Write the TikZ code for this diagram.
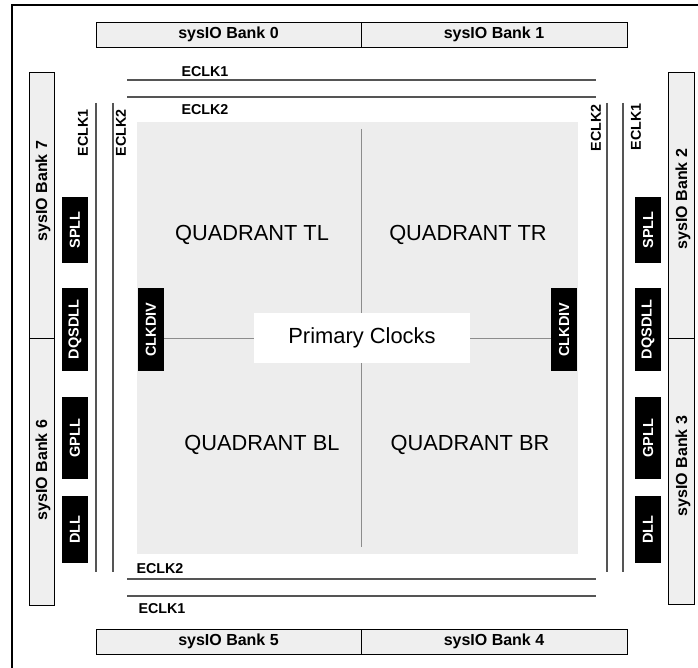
\documentclass[tikz,border=0pt]{standalone}
\usepackage{fontspec}
\setmainfont{Liberation Sans}
\definecolor{bankfill}{HTML}{EFEFEF}
\definecolor{quadfill}{HTML}{EDEDED}
\definecolor{clkline}{HTML}{555555}
\definecolor{crossline}{HTML}{8C8C8C}
\begin{document}
\begin{tikzpicture}[x=1pt,y=-1pt,
  bankbox/.style={draw=black, line width=0.9pt, fill=bankfill, inner sep=0pt, anchor=center},
  banktext/.style={font=\bfseries\fontsize{16}{18}\selectfont, inner sep=0pt, anchor=center},
  blk/.style={fill=black, text=white, inner sep=0pt, rotate=90, anchor=center, font=\bfseries\fontsize{14.5}{16}\selectfont},
  eclk/.style={draw=clkline, line width=1.8pt},
  elabel/.style={font=\bfseries\fontsize{14.3}{16}\selectfont, inner sep=0pt, anchor=center},
  quad/.style={font=\fontsize{21.8}{24}\selectfont, inner sep=0pt, anchor=center},
  cross/.style={draw=crossline, line width=0.9pt}
]
\useasboundingbox (0,0) rectangle (698,668);
% outer frame
\draw[line width=2pt] (12,668) -- (12,5) -- (698,5);

% quadrant area
\node[fill=quadfill, inner sep=0pt, minimum width=441pt, minimum height=432pt] (quad) at (357.5,338) {};

% top / bottom banks
\node[bankbox, minimum width=265pt, minimum height=25pt] (b0) at (228.5,34.5) {};
\node[bankbox, minimum width=266pt, minimum height=25pt] (b1) at (494,34.5) {};
\node[banktext] (t0) at (228.5,34.5) {sysIO Bank 0};
\node[banktext] (t1) at (494,34.5) {sysIO Bank 1};
\node[bankbox, minimum width=265pt, minimum height=25pt] (b5) at (228.5,641.5) {};
\node[bankbox, minimum width=266pt, minimum height=25pt] (b4) at (494,641.5) {};
\node[banktext] (t5) at (228.5,641.5) {sysIO Bank 5};
\node[banktext] (t4) at (494,641.5) {sysIO Bank 4};

% side banks
\node[bankbox, minimum width=25pt, minimum height=266pt] (b7) at (41.5,205) {};
\node[bankbox, minimum width=25pt, minimum height=267pt] (b6) at (41.5,471.5) {};
\node[bankbox, minimum width=26pt, minimum height=266pt] (b2) at (681,205) {};
\node[bankbox, minimum width=26pt, minimum height=266pt] (b3) at (681,471) {};
\node[banktext, rotate=90] (t7) at (43,191) {sysIO Bank 7};
\node[banktext, rotate=90] (t6) at (43,470) {sysIO Bank 6};
\node[banktext, rotate=90] (t2) at (683,199) {sysIO Bank 2};
\node[banktext, rotate=90] (t3) at (683,466) {sysIO Bank 3};

% ECLK lines
\coordinate (h1a) at (127,80);  \coordinate (h1b) at (596,80);
\coordinate (h2a) at (127,97);  \coordinate (h2b) at (596,97);
\coordinate (h3a) at (127,579); \coordinate (h3b) at (596,579);
\coordinate (h4a) at (127,596); \coordinate (h4b) at (596,596);
\coordinate (v1a) at (96,103);  \coordinate (v1b) at (96,572);
\coordinate (v2a) at (113,103); \coordinate (v2b) at (113,572);
\coordinate (v3a) at (607,103); \coordinate (v3b) at (607,572);
\coordinate (v4a) at (623,103); \coordinate (v4b) at (623,572);
\draw[eclk] (h1a) -- (h1b);
\draw[eclk] (h2a) -- (h2b);
\draw[eclk] (h3a) -- (h3b);
\draw[eclk] (h4a) -- (h4b);
\draw[eclk] (v1a) -- (v1b);
\draw[eclk] (v2a) -- (v2b);
\draw[eclk] (v3a) -- (v3b);
\draw[eclk] (v4a) -- (v4b);

% ECLK labels
\node[elabel] (e1t) at (205,72) {ECLK1};
\node[elabel] (e2t) at (205,110) {ECLK2};
\node[elabel] (e2b) at (160,569) {ECLK2};
\node[elabel] (e1b) at (162,609) {ECLK1};
\node[elabel, rotate=90] (e1l) at (83,133) {ECLK1};
\node[elabel, rotate=90] (e2l) at (121,133) {ECLK2};
\node[elabel, rotate=90] (e2r) at (596,128) {ECLK2};
\node[elabel, rotate=90] (e1r) at (636,127) {ECLK1};

% blocks left
\node[blk, minimum width=66pt, minimum height=26pt] (splll) at (75,230) {SPLL};
\node[blk, minimum width=83pt, minimum height=26pt] (dqsl) at (75,329.5) {DQSDLL};
\node[blk, minimum width=82pt, minimum height=26pt] (gplll) at (75,438) {GPLL};
\node[blk, minimum width=67pt, minimum height=26pt] (dlll) at (75,529.5) {DLL};
% blocks right
\node[blk, minimum width=66pt, minimum height=26pt] (spllr) at (648,230) {SPLL};
\node[blk, minimum width=83pt, minimum height=26pt] (dqsr) at (648,329.5) {DQSDLL};
\node[blk, minimum width=82pt, minimum height=26pt] (gpllr) at (648,438) {GPLL};
\node[blk, minimum width=67pt, minimum height=26pt] (dllr) at (648,529.5) {DLL};
% clkdiv
\node[blk, minimum width=83pt, minimum height=26pt] (cdl) at (151,329.5) {CLKDIV};
\node[blk, minimum width=83pt, minimum height=26pt] (cdr) at (564,329.5) {CLKDIV};

% primary clocks
\node[fill=white, inner sep=0pt, minimum width=216pt, minimum height=50pt, font=\fontsize{21.9}{24}\selectfont] (prim) at (362,338) {Primary Clocks};
\coordinate (vtop) at (361,129);
\coordinate (vbot) at (361,547);
\draw[cross] (vtop) -- (vtop |- prim.north);
\draw[cross] (vbot |- prim.south) -- (vbot);
\draw[cross] (cdl.south |- prim.west) -- (prim.west);
\draw[cross] (prim.east) -- (cdr.north |- prim.east);

% quadrant labels
\node[quad] (qtl) at (252,235) {QUADRANT TL};
\node[quad] (qtr) at (468,235) {QUADRANT TR};
\node[quad] (qbl) at (262,445) {QUADRANT BL};
\node[quad] (qbr) at (470,445) {QUADRANT BR};
\end{tikzpicture}
\end{document}
